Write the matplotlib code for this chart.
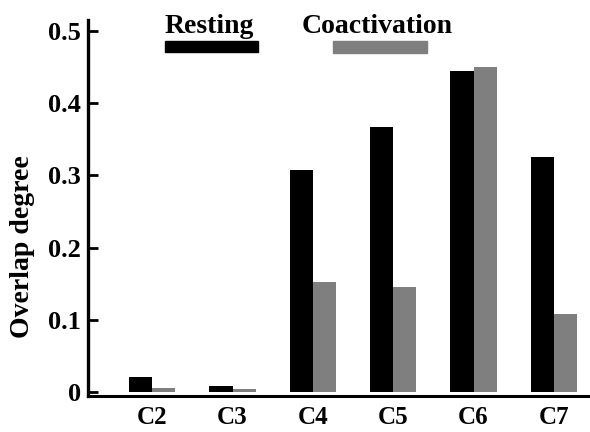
import matplotlib
matplotlib.use("Agg")
import matplotlib.pyplot as plt
import numpy as np
from matplotlib.patches import Rectangle

categories = ["C2", "C3", "C4", "C5", "C6", "C7"]
resting = [0.021, 0.009, 0.307, 0.367, 0.444, 0.325]
coactivation = [0.006, 0.005, 0.152, 0.146, 0.450, 0.109]
yticks = [0, 0.1, 0.2, 0.3, 0.4, 0.5]
ytick_labels = ["0", "0.1", "0.2", "0.3", "0.4", "0.5"]

plt.rcParams['font.family'] = ['Liberation Serif', 'DejaVu Serif']
plt.rcParams['font.weight'] = 'bold'

fig = plt.figure(figsize=(5.9, 4.32), dpi=100)
ax = fig.add_axes([0.149, 0.0833, 0.851, 0.8707])

x = np.arange(len(categories))
w = 0.29
black = "#000000"
gray = "#7f7f7f"
ax.bar(x - w / 2, resting, width=w, color=black, bottom=0)
ax.bar(x + w / 2, coactivation, width=w, color=gray, bottom=0)

ax.set_xlim(-0.8, 5.45)
ax.set_ylim(-0.005, 0.515)
ax.set_xticks(x)
ax.set_xticklabels(categories, fontsize=18, fontweight='bold')
ax.set_yticks(yticks)
ax.set_yticklabels(ytick_labels, fontsize=19, fontweight='bold')
ax.tick_params(axis='x', length=0, pad=7)
ax.tick_params(axis='y', direction='in', length=7, width=2, pad=5)
for s in ['top', 'right']:
    ax.spines[s].set_visible(False)
ax.spines['left'].set_linewidth(2.4)
ax.spines['bottom'].set_linewidth(2.2)
ax.set_ylabel("Overlap degree", fontsize=20, fontweight='bold')
ax.yaxis.set_label_coords(-0.106, 0.396)

# legend: text above colour bar
def fx(px):
    return px / 590
def fy(py):
    return 1 - py / 432

fig.text(fx(209), fy(33), "Resting", ha='center', va='baseline', fontsize=20, fontweight='bold')
fig.patches.append(Rectangle((fx(165), fy(52)), fx(258) - fx(165), fy(41) - fy(52),
                             transform=fig.transFigure, color=black, figure=fig))
fig.text(fx(377.5), fy(33), "Coactivation", ha='center', va='baseline', fontsize=20, fontweight='bold')
fig.patches.append(Rectangle((fx(333), fy(53)), fx(427) - fx(333), fy(41) - fy(53),
                             transform=fig.transFigure, color=gray, figure=fig))

fig.savefig("out.png", dpi=100)
